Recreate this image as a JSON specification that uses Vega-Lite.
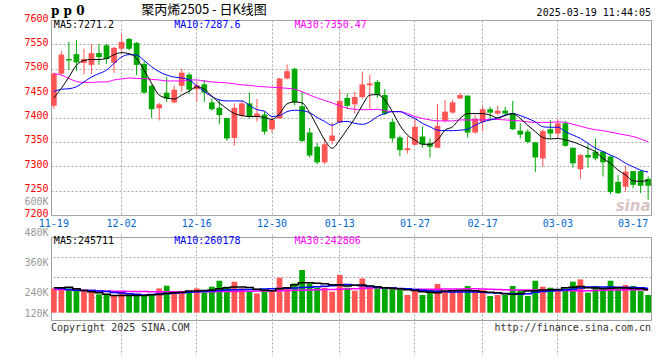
{
"$schema": "https://vega.github.io/schema/vega-lite/v6.json",
"background": "white",
"padding": {"left": 23, "top": 3, "right": 8, "bottom": 4},
"bounds": "flush",
"spacing": 22,
"config": {
  "view": {"stroke": "#a0a0a0", "strokeWidth": 1},
  "axis": {"labelFont": "DejaVu Sans Mono", "labelFontSize": 10, "labelOverlap": false},
  "text": {"font": "DejaVu Sans Mono", "fontSize": 10}
},
"resolve": {"scale": {"x": "independent", "y": "independent"}},
"datasets": {"k": [
{"d":"11-19","o":7424,"h":7492,"l":7418,"c":7490,"v":257000,"m5":7440,"m10":7453,"m30":7490,"vm5":259800,"vm10":259800,"vm30":253100},
{"d":"11-20","o":7490,"h":7536,"l":7487,"c":7529,"v":257000,"m5":7460,"m10":7458,"m30":7487,"vm5":259800,"vm10":256500,"vm30":252500},
{"d":"11-21","o":7520,"h":7555,"l":7498,"c":7517,"v":257000,"m5":7483,"m10":7459,"m30":7480,"vm5":261800,"vm10":253000,"vm30":251800},
{"d":"11-22","o":7530,"h":7559,"l":7496,"c":7513,"v":250700,"m5":7507,"m10":7463,"m30":7474,"vm5":255800,"vm10":249500,"vm30":251000},
{"d":"11-25","o":7512,"h":7541,"l":7489,"c":7520,"v":250700,"m5":7517,"m10":7473,"m30":7472,"vm5":249100,"vm10":249100,"vm30":249900},
{"d":"11-26","o":7508,"h":7551,"l":7489,"c":7532,"v":244000,"m5":7519,"m10":7483,"m30":7472,"vm5":244000,"vm10":249100,"vm30":248800},
{"d":"11-27","o":7532,"h":7551,"l":7508,"c":7524,"v":233300,"m5":7519,"m10":7490,"m30":7473,"vm5":240000,"vm10":247000,"vm30":247700},
{"d":"11-28","o":7548,"h":7551,"l":7510,"c":7520,"v":233300,"m5":7521,"m10":7497,"m30":7473,"vm5":234100,"vm10":244800,"vm30":246700},
{"d":"11-29","o":7512,"h":7545,"l":7491,"c":7543,"v":230900,"m5":7529,"m10":7511,"m30":7477,"vm5":229300,"vm10":241000,"vm30":246200},
{"d":"12-02","o":7541,"h":7571,"l":7534,"c":7555,"v":246700,"m5":7533,"m10":7524,"m30":7479,"vm5":229300,"vm10":238500,"vm30":245700},
{"d":"12-03","o":7561,"h":7563,"l":7538,"c":7541,"v":233300,"m5":7531,"m10":7529,"m30":7481,"vm5":229300,"vm10":236000,"vm30":245200},
{"d":"12-04","o":7553,"h":7555,"l":7487,"c":7508,"v":233300,"m5":7521,"m10":7528,"m30":7480,"vm5":229300,"vm10":233500,"vm30":244700},
{"d":"12-05","o":7510,"h":7515,"l":7449,"c":7451,"v":230900,"m5":7497,"m10":7517,"m30":7480,"vm5":229300,"vm10":231000,"vm30":244300},
{"d":"12-06","o":7465,"h":7468,"l":7399,"c":7417,"v":230900,"m5":7470,"m10":7504,"m30":7478,"vm5":232100,"vm10":232500,"vm30":244000},
{"d":"12-09","o":7419,"h":7430,"l":7394,"c":7427,"v":257000,"m5":7446,"m10":7494,"m30":7477,"vm5":233300,"vm10":234500,"vm30":244000},
{"d":"12-10","o":7451,"h":7483,"l":7432,"c":7439,"v":267700,"m5":7440,"m10":7487,"m30":7475,"vm5":237200,"vm10":236500,"vm30":244000},
{"d":"12-11","o":7431,"h":7465,"l":7429,"c":7457,"v":241200,"m5":7438,"m10":7483,"m30":7475,"vm5":240000,"vm10":238000,"vm30":244000},
{"d":"12-12","o":7465,"h":7500,"l":7453,"c":7492,"v":241200,"m5":7446,"m10":7481,"m30":7475,"vm5":242000,"vm10":239500,"vm30":244000},
{"d":"12-13","o":7488,"h":7492,"l":7449,"c":7457,"v":244000,"m5":7454,"m10":7477,"m30":7477,"vm5":246700,"vm10":241500,"vm30":244000},
{"d":"12-16","o":7458,"h":7473,"l":7432,"c":7466,"v":257000,"m5":7463,"m10":7465,"m30":7477,"vm5":246700,"vm10":243500,"vm30":244000},
{"d":"12-17","o":7468,"h":7477,"l":7432,"c":7451,"v":241200,"m5":7458,"m10":7453,"m30":7475,"vm5":249100,"vm10":245000,"vm30":244000},
{"d":"12-18","o":7431,"h":7439,"l":7414,"c":7417,"v":263800,"m5":7444,"m10":7443,"m30":7473,"vm5":250700,"vm10":246700,"vm30":244000},
{"d":"12-19","o":7420,"h":7438,"l":7386,"c":7405,"v":287500,"m5":7430,"m10":7436,"m30":7472,"vm5":255800,"vm10":248500,"vm30":244400},
{"d":"12-20","o":7399,"h":7400,"l":7352,"c":7357,"v":263800,"m5":7418,"m10":7434,"m30":7471,"vm5":259800,"vm10":251000,"vm30":244800},
{"d":"12-23","o":7358,"h":7429,"l":7342,"c":7420,"v":283600,"m5":7408,"m10":7434,"m30":7469,"vm5":262600,"vm10":252000,"vm30":245200},
{"d":"12-24","o":7404,"h":7434,"l":7400,"c":7429,"v":257000,"m5":7404,"m10":7434,"m30":7467,"vm5":262600,"vm10":253000,"vm30":245600},
{"d":"12-25","o":7429,"h":7451,"l":7398,"c":7401,"v":246700,"m5":7402,"m10":7425,"m30":7466,"vm5":261000,"vm10":253100,"vm30":246000},
{"d":"12-26","o":7401,"h":7438,"l":7391,"c":7408,"v":237200,"m5":7402,"m10":7416,"m30":7464,"vm5":253900,"vm10":253100,"vm30":246400},
{"d":"12-27","o":7406,"h":7412,"l":7365,"c":7371,"v":246700,"m5":7400,"m10":7413,"m30":7463,"vm5":249900,"vm10":254500,"vm30":246700},
{"d":"12-30","o":7376,"h":7400,"l":7369,"c":7395,"v":244000,"m5":7396,"m10":7402,"m30":7462,"vm5":247900,"vm10":256000,"vm30":247300},
{"d":"12-31","o":7398,"h":7481,"l":7397,"c":7480,"v":299400,"m5":7408,"m10":7404,"m30":7461,"vm5":255800,"vm10":257000,"vm30":248000},
{"d":"01-02","o":7480,"h":7509,"l":7478,"c":7495,"v":257000,"m5":7428,"m10":7412,"m30":7460,"vm5":259800,"vm10":258000,"vm30":248700},
{"d":"01-03","o":7500,"h":7502,"l":7425,"c":7431,"v":276800,"m5":7432,"m10":7415,"m30":7458,"vm5":271700,"vm10":259000,"vm30":249400},
{"d":"01-06","o":7423,"h":7453,"l":7349,"c":7352,"v":329900,"m5":7430,"m10":7414,"m30":7453,"vm5":279600,"vm10":260500,"vm30":250000},
{"d":"01-07","o":7369,"h":7379,"l":7318,"c":7322,"v":276800,"m5":7410,"m10":7410,"m30":7446,"vm5":279600,"vm10":262000,"vm30":250700},
{"d":"01-08","o":7340,"h":7348,"l":7304,"c":7308,"v":259800,"m5":7382,"m10":7400,"m30":7440,"vm5":277600,"vm10":263500,"vm30":251500},
{"d":"01-09","o":7308,"h":7357,"l":7304,"c":7345,"v":259800,"m5":7354,"m10":7392,"m30":7435,"vm5":275600,"vm10":265500,"vm30":252200},
{"d":"01-10","o":7352,"h":7390,"l":7345,"c":7363,"v":244000,"m5":7337,"m10":7384,"m30":7430,"vm5":271700,"vm10":267500,"vm30":253000},
{"d":"01-13","o":7390,"h":7458,"l":7388,"c":7434,"v":310100,"m5":7354,"m10":7391,"m30":7424,"vm5":270500,"vm10":270000,"vm30":253800},
{"d":"01-14","o":7440,"h":7449,"l":7417,"c":7424,"v":259800,"m5":7376,"m10":7392,"m30":7419,"vm5":266500,"vm10":272000,"vm30":254500},
{"d":"01-15","o":7427,"h":7453,"l":7408,"c":7442,"v":247900,"m5":7398,"m10":7388,"m30":7417,"vm5":269700,"vm10":270000,"vm30":255800},
{"d":"01-16","o":7442,"h":7494,"l":7438,"c":7468,"v":296600,"m5":7425,"m10":7386,"m30":7416,"vm5":270500,"vm10":267500,"vm30":257100},
{"d":"01-17","o":7466,"h":7488,"l":7417,"c":7470,"v":259800,"m5":7446,"m10":7391,"m30":7416,"vm5":266500,"vm10":264500,"vm30":258400},
{"d":"01-20","o":7473,"h":7477,"l":7440,"c":7446,"v":259800,"m5":7447,"m10":7402,"m30":7417,"vm5":263800,"vm10":262000,"vm30":259800},
{"d":"01-21","o":7446,"h":7458,"l":7405,"c":7408,"v":259800,"m5":7436,"m10":7408,"m30":7414,"vm5":259800,"vm10":260000,"vm30":258500},
{"d":"01-22","o":7391,"h":7397,"l":7350,"c":7357,"v":259800,"m5":7412,"m10":7412,"m30":7412,"vm5":257800,"vm10":258500,"vm30":257000},
{"d":"01-23","o":7359,"h":7363,"l":7320,"c":7333,"v":253100,"m5":7384,"m10":7412,"m30":7412,"vm5":255800,"vm10":257000,"vm30":255600},
{"d":"01-24","o":7333,"h":7361,"l":7326,"c":7337,"v":230900,"m5":7364,"m10":7405,"m30":7408,"vm5":251900,"vm10":255500,"vm30":254200},
{"d":"01-27","o":7344,"h":7399,"l":7343,"c":7381,"v":246700,"m5":7354,"m10":7398,"m30":7402,"vm5":249100,"vm10":253000,"vm30":253100},
{"d":"02-05","o":7361,"h":7381,"l":7338,"c":7345,"v":230900,"m5":7345,"m10":7388,"m30":7398,"vm5":244000,"vm10":250000,"vm30":253400},
{"d":"02-06","o":7347,"h":7357,"l":7318,"c":7340,"v":250700,"m5":7345,"m10":7381,"m30":7395,"vm5":242000,"vm10":247000,"vm30":253700},
{"d":"02-07","o":7338,"h":7427,"l":7337,"c":7383,"v":274500,"m5":7354,"m10":7374,"m30":7393,"vm5":240000,"vm10":245500,"vm30":254000},
{"d":"02-10","o":7393,"h":7436,"l":7390,"c":7412,"v":246700,"m5":7374,"m10":7373,"m30":7393,"vm5":246700,"vm10":244000,"vm30":254300},
{"d":"02-11","o":7410,"h":7436,"l":7408,"c":7431,"v":244000,"m5":7381,"m10":7373,"m30":7393,"vm5":247900,"vm10":243000,"vm30":254600},
{"d":"02-12","o":7439,"h":7451,"l":7438,"c":7446,"v":246700,"m5":7398,"m10":7374,"m30":7395,"vm5":249100,"vm10":242800,"vm30":255000},
{"d":"02-13","o":7445,"h":7445,"l":7359,"c":7369,"v":266500,"m5":7408,"m10":7376,"m30":7395,"vm5":249100,"vm10":242800,"vm30":255400},
{"d":"02-14","o":7369,"h":7405,"l":7367,"c":7397,"v":250700,"m5":7408,"m10":7384,"m30":7395,"vm5":247900,"vm10":242800,"vm30":255800},
{"d":"02-17","o":7391,"h":7424,"l":7372,"c":7417,"v":250700,"m5":7408,"m10":7391,"m30":7395,"vm5":244000,"vm10":241500,"vm30":254800},
{"d":"02-18","o":7417,"h":7422,"l":7393,"c":7410,"v":226900,"m5":7405,"m10":7395,"m30":7396,"vm5":242000,"vm10":240000,"vm30":253800},
{"d":"02-19","o":7408,"h":7424,"l":7405,"c":7414,"v":230900,"m5":7399,"m10":7399,"m30":7396,"vm5":240000,"vm10":238500,"vm30":252800},
{"d":"02-20","o":7414,"h":7422,"l":7405,"c":7408,"v":230900,"m5":7404,"m10":7405,"m30":7395,"vm5":236000,"vm10":237200,"vm30":251700},
{"d":"02-21","o":7408,"h":7434,"l":7374,"c":7376,"v":266500,"m5":7408,"m10":7408,"m30":7394,"vm5":234100,"vm10":235500,"vm30":250700},
{"d":"02-24","o":7373,"h":7388,"l":7357,"c":7365,"v":250700,"m5":7398,"m10":7404,"m30":7393,"vm5":237200,"vm10":234000,"vm30":250700},
{"d":"02-25","o":7371,"h":7376,"l":7347,"c":7350,"v":226900,"m5":7384,"m10":7398,"m30":7391,"vm5":246700,"vm10":236000,"vm30":250700},
{"d":"02-26","o":7349,"h":7350,"l":7288,"c":7318,"v":287500,"m5":7371,"m10":7391,"m30":7390,"vm5":247900,"vm10":242000,"vm30":250700},
{"d":"02-27","o":7316,"h":7376,"l":7299,"c":7372,"v":263800,"m5":7359,"m10":7381,"m30":7390,"vm5":250700,"vm10":244500,"vm30":250700},
{"d":"02-28","o":7376,"h":7395,"l":7357,"c":7367,"v":259800,"m5":7356,"m10":7380,"m30":7390,"vm5":251900,"vm10":246700,"vm30":250700},
{"d":"03-03","o":7367,"h":7397,"l":7356,"c":7388,"v":250700,"m5":7357,"m10":7380,"m30":7391,"vm5":253100,"vm10":249000,"vm30":249700},
{"d":"03-04","o":7388,"h":7393,"l":7340,"c":7342,"v":257000,"m5":7354,"m10":7371,"m30":7390,"vm5":259800,"vm10":251500,"vm30":248700},
{"d":"03-05","o":7338,"h":7338,"l":7297,"c":7306,"v":283600,"m5":7350,"m10":7364,"m30":7386,"vm5":261800,"vm10":254000,"vm30":247700},
{"d":"03-06","o":7294,"h":7325,"l":7274,"c":7323,"v":292700,"m5":7344,"m10":7357,"m30":7382,"vm5":265000,"vm10":258500,"vm30":246700},
{"d":"03-07","o":7323,"h":7345,"l":7297,"c":7318,"v":240000,"m5":7337,"m10":7347,"m30":7378,"vm5":259800,"vm10":262600,"vm30":247700},
{"d":"03-10","o":7330,"h":7357,"l":7312,"c":7316,"v":266500,"m5":7330,"m10":7337,"m30":7375,"vm5":258600,"vm10":262600,"vm30":248700},
{"d":"03-11","o":7330,"h":7330,"l":7279,"c":7308,"v":259800,"m5":7316,"m10":7330,"m30":7373,"vm5":257000,"vm10":262600,"vm30":249700},
{"d":"03-12","o":7320,"h":7322,"l":7243,"c":7247,"v":287500,"m5":7306,"m10":7323,"m30":7370,"vm5":257800,"vm10":262600,"vm30":250700},
{"d":"03-13","o":7268,"h":7282,"l":7243,"c":7245,"v":259800,"m5":7292,"m10":7316,"m30":7367,"vm5":259800,"vm10":262000,"vm30":251000},
{"d":"03-14","o":7258,"h":7301,"l":7248,"c":7289,"v":270500,"m5":7282,"m10":7306,"m30":7364,"vm5":258600,"vm10":261000,"vm30":251200},
{"d":"03-17","o":7290,"h":7290,"l":7255,"c":7262,"v":266500,"m5":7270,"m10":7299,"m30":7361,"vm5":257000,"vm10":260500,"vm30":251400},
{"d":"03-18","o":7290,"h":7292,"l":7245,"c":7260,"v":247900,"m5":7269,"m10":7292,"m30":7356,"vm5":255800,"vm10":260000,"vm30":251700},
{"d":"03-19","o":7274,"h":7279,"l":7231,"c":7260,"v":230900,"m5":7271,"m10":7288,"m30":7350,"vm5":251900,"vm10":258000,"vm30":251900}
]},
"vconcat": [
{
  "width": 600, "height": 195,
  "data": {"name": "k"},
  "resolve": {"scale": {"x": "shared", "y": "shared"}, "axis": {"x": "independent", "y": "independent"}},
  "layer": [
    {"mark": {"type": "rule", "strokeWidth": 1},
     "encoding": {
       "x": {"field": "d", "type": "ordinal", "sort": null,
             "scale": {"type": "band", "paddingInner": 0.24, "paddingOuter": 0},
             "axis": {"title": null, "values": ["11-19","12-02","12-16","12-30","01-13","01-27","02-17","03-03","03-17"],
                      "labelAngle": 0, "ticks": false, "domain": false, "labelColor": "#0066cc", "labelPadding": 3,
                      "grid": true, "gridColor": "#aaaaaa", "gridDash": [2, 2],
                      "gridOpacity": {"condition": {"test": "datum.value == '11-19' || datum.value == '03-17'", "value": 0}, "value": 1}}},
       "y": {"field": "l", "type": "quantitative",
             "scale": {"domain": [7200, 7600], "nice": false, "zero": false},
             "axis": {"title": null, "values": [7200,7250,7300,7350,7400,7450,7500,7550,7600], "format": "d", "ticks": false, "domain": false,
                      "labelColor": "#ff0000", "labelPadding": 3, "labelOffset": -2, "labelFlush": false, "labelOverlap": false,
                      "grid": true, "gridColor": "#aaaaaa", "gridDash": [2, 2]}},
       "y2": {"field": "h"},
       "color": {"condition": {"test": "datum.c >= datum.o", "value": "#ff5555"}, "value": "#00a800"}
     }},
    {"mark": {"type": "bar"},
     "encoding": {
       "x": {"field": "d", "type": "ordinal", "sort": null, "axis": null},
       "y": {"field": "o", "type": "quantitative", "axis": null},
       "y2": {"field": "c"},
       "color": {"condition": {"test": "datum.c >= datum.o", "value": "#ff5555"}, "value": "#00a800"}
     }},
    {"mark": {"type": "line", "color": "#ff00ff", "strokeWidth": 1, "interpolate": "monotone"},
     "encoding": {"x": {"field": "d", "type": "ordinal", "sort": null, "axis": null}, "y": {"field": "m30", "type": "quantitative", "axis": null}}},
    {"mark": {"type": "line", "color": "#0000ff", "strokeWidth": 1, "interpolate": "monotone"},
     "encoding": {"x": {"field": "d", "type": "ordinal", "sort": null, "axis": null}, "y": {"field": "m10", "type": "quantitative", "axis": null}}},
    {"mark": {"type": "line", "color": "#000000", "strokeWidth": 1, "interpolate": "monotone"},
     "encoding": {"x": {"field": "d", "type": "ordinal", "sort": null, "axis": null}, "y": {"field": "m5", "type": "quantitative", "axis": null}}},
    {"data": {"values": [{}]},
     "mark": {"type": "text", "text": "MA5:7271.2", "align": "left", "baseline": "middle", "color": "#000000"},
     "encoding": {"x": {"datum": "11-19", "type": "ordinal", "axis": null}, "y": {"datum": 7590, "type": "quantitative", "axis": null}}},
    {"data": {"values": [{}]},
     "mark": {"type": "text", "text": "MA10:7287.6", "align": "left", "baseline": "middle", "color": "#0000ff"},
     "encoding": {"x": {"datum": "12-11", "type": "ordinal", "axis": null}, "y": {"datum": 7590, "type": "quantitative", "axis": null}}},
    {"data": {"values": [{}]},
     "mark": {"type": "text", "text": "MA30:7350.47", "align": "left", "baseline": "middle", "color": "#ff00ff"},
     "encoding": {"x": {"datum": "01-03", "type": "ordinal", "axis": null}, "y": {"datum": 7590, "type": "quantitative", "axis": null}}},
    {"data": {"values": [{}]},
     "mark": {"type": "text", "text": "p p 0", "align": "left", "baseline": "middle", "color": "#000000", "font": "DejaVu Serif", "fontSize": 12, "fontWeight": "bold"},
     "encoding": {"x": {"datum": "11-19", "type": "ordinal", "bandPosition": 0, "axis": null}, "y": {"datum": 7619, "type": "quantitative", "axis": null}}},
    {"data": {"values": [{}]},
     "mark": {"type": "text", "text": "聚丙烯2505 -  日K线图", "align": "left", "baseline": "middle", "color": "#000000", "font": "Noto Sans CJK SC", "fontSize": 13},
     "encoding": {"x": {"datum": "12-05", "type": "ordinal", "bandPosition": 0, "axis": null}, "y": {"datum": 7621, "type": "quantitative", "axis": null}}},
    {"data": {"values": [{}]},
     "mark": {"type": "text", "text": "2025-03-19 11:44:05", "align": "right", "baseline": "middle", "color": "#000000"},
     "encoding": {"x": {"datum": "03-19", "type": "ordinal", "bandPosition": 1, "axis": null}, "y": {"datum": 7614.5, "type": "quantitative", "axis": null}}},
    {"data": {"values": [{}]},
     "mark": {"type": "text", "text": "sina", "align": "center", "baseline": "middle", "color": "#d8c4c4", "font": "DejaVu Sans", "fontSize": 15, "fontWeight": "bold", "fontStyle": "italic"},
     "encoding": {"x": {"datum": "03-17", "type": "ordinal", "axis": null}, "y": {"datum": 7218, "type": "quantitative", "axis": null}}}
  ]
},
{
  "width": 600, "height": 83,
  "data": {"name": "k"},
  "resolve": {"scale": {"x": "shared", "y": "shared"}, "axis": {"x": "independent", "y": "independent"}},
  "layer": [
    {"mark": {"type": "bar"},
     "encoding": {
       "x": {"field": "d", "type": "ordinal", "sort": null,
             "scale": {"type": "band", "paddingInner": 0.24, "paddingOuter": 0},
             "axis": {"title": null, "values": ["11-19","12-02","12-16","12-30","01-13","01-27","02-17","03-03","03-17"],
                      "labels": false, "ticks": false, "domain": false,
                      "grid": true, "gridColor": "#aaaaaa", "gridDash": [2, 2],
                      "gridOpacity": {"condition": {"test": "datum.value == '11-19' || datum.value == '03-17'", "value": 0}, "value": 1}}},
       "y": {"field": "v", "type": "quantitative",
             "scale": {"domain": [120000, 600000], "range": [86, -35.2], "nice": false, "zero": false},
             "axis": {"title": null, "orient": "left", "values": [120000, 240000, 360000, 480000, 600000],
                      "labelExpr": "format(datum.value / 1000, 'd') + 'K'",
                      "ticks": false, "domain": false, "labelColor": "#999999", "labelPadding": 3,
                      "labelFlush": false, "labelOverlap": false,
                      "labelOffset": {"condition": {"test": "datum.value == 120000", "value": -10}, "value": 0},
                      "grid": false}},
       "y2": {"datum": 160800},
       "color": {"condition": {"test": "datum.c >= datum.o", "value": "#ff5555"}, "value": "#00a800"}
     }},
    {"mark": {"type": "line", "color": "#ff00ff", "strokeWidth": 1.5, "interpolate": "step"},
     "encoding": {"x": {"field": "d", "type": "ordinal", "sort": null, "axis": null},
                  "y": {"field": "vm30", "type": "quantitative",
                        "axis": {"title": null, "orient": "right", "values": [223000, 302000, 381400],
                                 "labels": false, "ticks": false, "domain": false,
                                 "grid": true, "gridColor": "#aaaaaa", "gridDash": [2, 2]}}}},
    {"mark": {"type": "line", "color": "#0000ff", "strokeWidth": 1.5, "interpolate": "step"},
     "encoding": {"x": {"field": "d", "type": "ordinal", "sort": null, "axis": null}, "y": {"field": "vm10", "type": "quantitative", "axis": null}}},
    {"mark": {"type": "line", "color": "#000000", "strokeWidth": 1.5, "interpolate": "step"},
     "encoding": {"x": {"field": "d", "type": "ordinal", "sort": null, "axis": null}, "y": {"field": "vm5", "type": "quantitative", "axis": null}}},
    {"data": {"values": [{}]},
     "mark": {"type": "text", "text": "MA5:245711", "align": "left", "baseline": "middle", "color": "#000000"},
     "encoding": {"x": {"datum": "11-19", "type": "ordinal", "axis": null}, "y": {"datum": 445000, "type": "quantitative", "axis": null}}},
    {"data": {"values": [{}]},
     "mark": {"type": "text", "text": "MA10:260178", "align": "left", "baseline": "middle", "color": "#0000ff"},
     "encoding": {"x": {"datum": "12-11", "type": "ordinal", "axis": null}, "y": {"datum": 445000, "type": "quantitative", "axis": null}}},
    {"data": {"values": [{}]},
     "mark": {"type": "text", "text": "MA30:242806", "align": "left", "baseline": "middle", "color": "#ff00ff"},
     "encoding": {"x": {"datum": "01-03", "type": "ordinal", "axis": null}, "y": {"datum": 445000, "type": "quantitative", "axis": null}}},
    {"data": {"values": [{}]},
     "mark": {"type": "text", "text": "Copyright 2025 SINA.COM", "align": "left", "baseline": "middle", "color": "#333333"},
     "encoding": {"x": {"datum": "11-19", "type": "ordinal", "bandPosition": 0, "axis": null}, "y": {"datum": 101400, "type": "quantitative", "axis": null}}},
    {"data": {"values": [{}]},
     "mark": {"type": "text", "text": "http://finance.sina.com.cn", "align": "right", "baseline": "middle", "color": "#333333"},
     "encoding": {"x": {"datum": "03-19", "type": "ordinal", "bandPosition": 1, "axis": null}, "y": {"datum": 101400, "type": "quantitative", "axis": null}}}
  ]
}
]
}
